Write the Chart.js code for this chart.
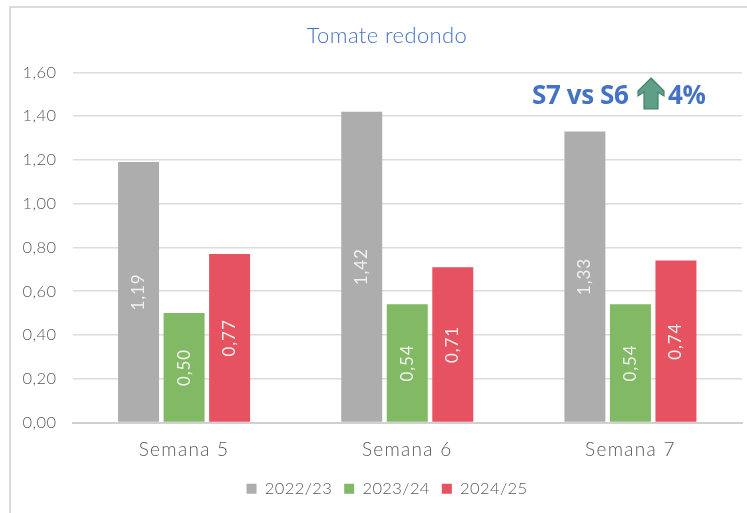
<!DOCTYPE html>
<html><head><meta charset="utf-8">
<script src="https://cdn.jsdelivr.net/npm/chart.js@4"></script>
<style>html,body{margin:0;padding:0;background:#fff;overflow:hidden}#w{position:absolute;left:0;top:0;width:747px;height:513px;overflow:hidden}
canvas{position:absolute;left:0;top:0}
#b{position:absolute;left:9px;top:6px;width:760px;height:530px;border:2px solid #dcdcdc;box-sizing:border-box}
.t{position:absolute;top:76px;font:bold 26px "Open Sans",sans-serif;color:#4472c4;white-space:nowrap;letter-spacing:-0.4px}
</style></head><body><div id="w"><div id="b"></div><canvas id="c" width="747" height="513"></canvas>
<div class="t" style="left:532px">S7 vs S6</div><div class="t" style="left:668px">4%</div></div>
<script>
const categories=["Semana 5","Semana 6","Semana 7"];
const s1=[1.19,1.42,1.33],s2=[0.50,0.54,0.54],s3=[0.77,0.71,0.74];
const seriesNames=["2022/23","2023/24","2024/25"];
const colors=["#adadad","#82b964","#e6525f"];
const yTicks=[0,0.2,0.4,0.6,0.8,1,1.2,1.4,1.6];
const font="Lato, sans-serif";
const fmt=v=>v.toFixed(2).replace('.',',');
const base='0.4px';
const spacing={id:'s',beforeUpdate(c){c.ctx.letterSpacing=base},
 afterLayout(c){const y=c.scales.y;y.left=12;const x=c.scales.x;if(!x._w){x._w=1;const o=x.drawLabels;x.drawLabels=function(a){c.ctx.letterSpacing='1.3px';o.call(this,a);c.ctx.letterSpacing=base;};}},
 beforeDraw(c){c.ctx.letterSpacing=base}};
const labels={id:'l',afterDatasetsDraw(c){const x=c.ctx;c.data.datasets.forEach((d,i)=>{c.getDatasetMeta(i).data.forEach((b,j)=>{x.save();x.letterSpacing='0.9px';x.translate(b.x,(b.y+b.base)/2);x.rotate(-Math.PI/2);x.fillStyle='#f0f0f0';x.font='400 17px '+font;x.textAlign='center';x.textBaseline='middle';x.fillText(fmt(d.data[j]),0,0);x.restore();});});}};
const arrow={id:'a',afterDraw(c){const x=c.ctx;x.save();x.fillStyle='#5f9f86';x.strokeStyle='#3f8069';x.lineWidth=1.2;x.beginPath();const X=651,Y=78;[[0,0],[13,13],[13,18],[7,14],[7,31],[-7,31],[-7,14],[-13,18],[-13,13]].forEach((p,i)=>{i?x.lineTo(X+p[0],Y+p[1]):x.moveTo(X+p[0],Y+p[1])});x.closePath();x.fill();x.stroke();x.restore();}};
new Chart(document.getElementById('c'),{type:'bar',plugins:[spacing,labels,arrow],data:{labels:categories,datasets:[s1,s2,s3].map((d,i)=>({label:seriesNames[i],data:d,backgroundColor:colors[i],barPercentage:0.9,categoryPercentage:0.612}))},
options:{responsive:false,animation:false,layout:{padding:{left:32,right:5,top:14,bottom:6}},
plugins:{title:{display:true,text:"Tomate redondo",color:'#4472c4',font:{family:font,size:22,weight:'300'},padding:{top:9,bottom:23}},
legend:{position:'bottom',labels:{boxWidth:10,boxHeight:10,color:'#595959',font:{family:font,size:16.5,weight:'300'},padding:12}},tooltip:{enabled:false}},
scales:{x:{grid:{display:false},border:{color:'#d0d0d0',width:2},afterFit(s){s.height=46},ticks:{color:'#595959',font:{family:font,size:19,weight:'300'},padding:8}},
y:{min:0,max:1.6,afterFit(s){s.width=40.5},afterBuildTicks(s){s.ticks=yTicks.map(v=>({value:v}))},ticks:{color:'#595959',font:{family:font,size:16.5,weight:'300'},padding:16,callback:fmt},grid:{color:'#dcdcdc',lineWidth:1.5,drawTicks:false},border:{display:false}}}}});
</script>
</body></html>
